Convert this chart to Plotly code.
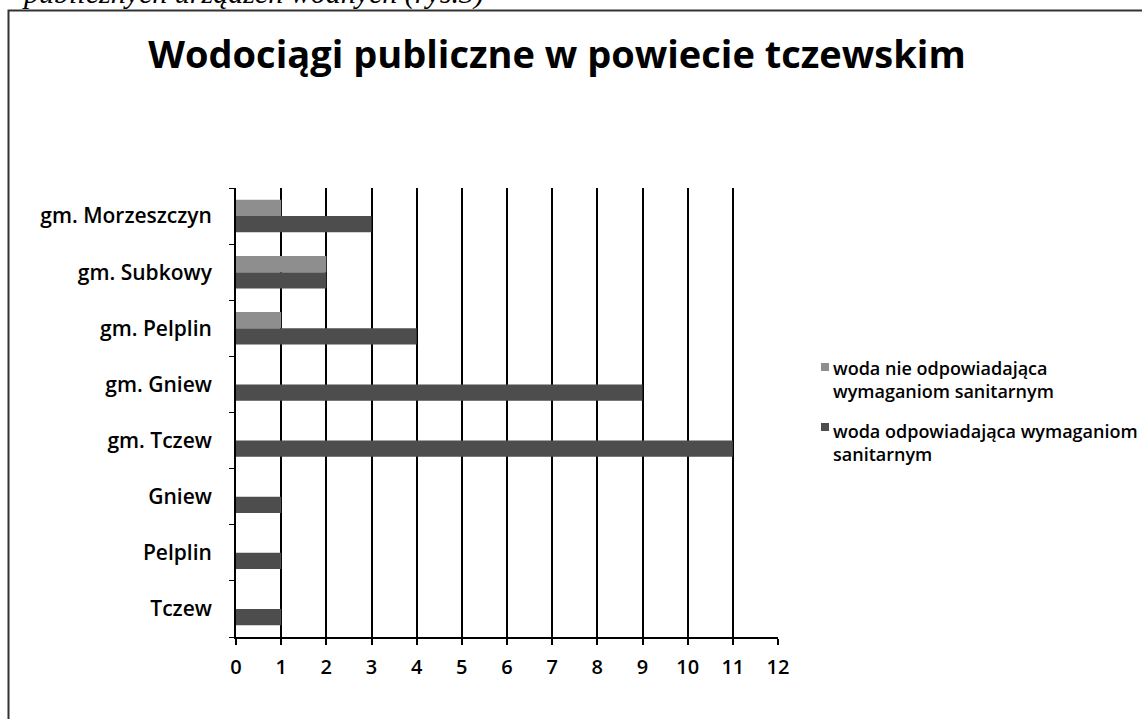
import plotly.graph_objects as go

# Water supply systems per municipality (counts)
categories = ["Tczew", "Pelplin", "Gniew", "gm. Tczew", "gm. Gniew",
              "gm. Pelplin", "gm. Subkowy", "gm. Morzeszczyn"]
nie_odpowiadajaca = [0, 0, 0, 0, 0, 1, 2, 1]
odpowiadajaca = [1, 1, 1, 11, 9, 4, 2, 3]

name_nie = "woda nie odpowiadająca<br>wymaganiom sanitarnym"
name_odp = "woda odpowiadająca wymaganiom<br>sanitarnym"

COLOR_NIE = "#8e8e8e"
COLOR_ODP = "#4d4d4d"
FONT = "Open Sans"

# Plot area in pixels: x 236..778, y 188..637
L, R, T, B = 236, 778, 188, 637
W, H = 1142, 719


def px_x(x):
    return (x - L) / (R - L)


def px_y(y):
    return (B - y) / (B - T)


fig = go.Figure()
fig.add_trace(go.Bar(
    y=categories, x=odpowiadajaca, orientation="h", name=name_odp,
    marker=dict(color=COLOR_ODP, line=dict(width=0)),
))
fig.add_trace(go.Bar(
    y=categories, x=nie_odpowiadajaca, orientation="h", name=name_nie,
    marker=dict(color=COLOR_NIE, line=dict(width=0)),
))

fig.update_layout(
    width=W, height=H,
    margin=dict(l=L, r=W - R, t=T, b=H - B),
    paper_bgcolor="white", plot_bgcolor="white",
    barmode="group", bargap=0.42, bargroupgap=0,
    font=dict(family=FONT, color="black"),
    title=dict(
        text="<b>Wodociągi publiczne w powiecie tczewskim</b>",
        x=(557 - L) / (R - L), xref="paper", xanchor="center",
        y=1 - 55 / H, yanchor="middle",
        font=dict(family=FONT, size=38, color="black"),
    ),
    showlegend=False,
    xaxis=dict(
        range=[0, 12], dtick=1, tick0=0,
        showgrid=True, gridcolor="black", gridwidth=1.8,
        showline=True, linecolor="black", linewidth=1.8,
        ticks="outside", ticklen=6, tickcolor="black", tickwidth=1.6,
        tickfont=dict(family=FONT, size=20, color="black", weight=600),
        ticklabelstandoff=5, zeroline=False, fixedrange=True,
    ),
    yaxis=dict(
        showline=True, linecolor="black", linewidth=1.8,
        ticks="outside", ticklen=5, tickcolor="black", tickwidth=1.4,
        tickson="boundaries", showgrid=False,
        tickfont=dict(family=FONT, size=21, color="black", weight=600),
        ticklabelstandoff=18, fixedrange=True,
    ),
)

# Legend drawn as swatches with wrapped labels
legend_items = [
    (name_nie, COLOR_NIE, 363, 379),
    (name_odp, COLOR_ODP, 423, 442),
]
for label, color, sq_top, text_mid in legend_items:
    fig.add_shape(type="rect", xref="paper", yref="paper",
                  x0=px_x(821), x1=px_x(829), y0=px_y(sq_top + 8), y1=px_y(sq_top),
                  line=dict(width=0), fillcolor=color)
    fig.add_annotation(
        text=label, xref="paper", yref="paper",
        x=px_x(831), y=px_y(text_mid), xanchor="left", yanchor="middle",
        align="left", showarrow=False,
        font=dict(family=FONT, size=18, color="black", weight=600),
    )

# Frame around the chart
fig.add_shape(type="rect", xref="paper", yref="paper",
              x0=px_x(8.5), x1=px_x(1150), y0=px_y(730), y1=px_y(10.5),
              line=dict(color="#333333", width=2), fillcolor="rgba(0,0,0,0)",
              layer="below")

# Preceding line of document text
fig.add_annotation(
    text="<i>publicznych urządzeń wodnych (rys.3)</i>",
    xref="paper", yref="paper", x=px_x(20), y=px_y(12),
    xanchor="left", yanchor="bottom", showarrow=False,
    font=dict(family="Liberation Serif", size=30, color="black"),
)

fig.write_html("out.html")
